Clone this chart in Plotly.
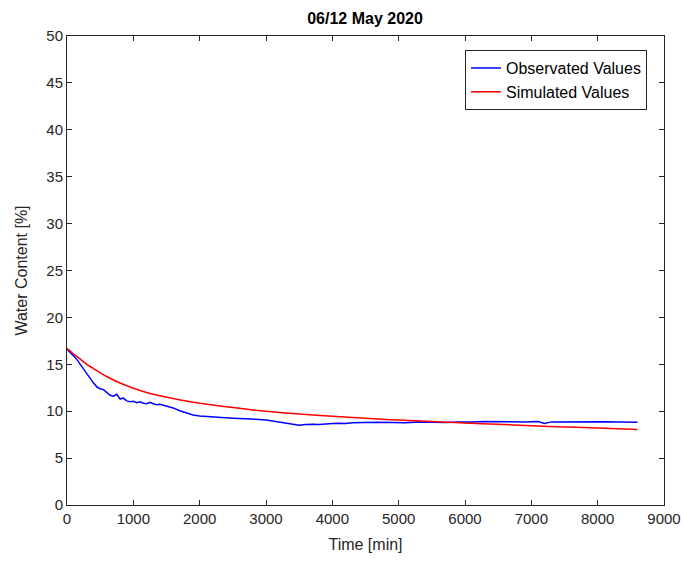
import plotly.graph_objects as go

obs_t = [0, 50, 100, 150, 200, 250, 300, 350, 400, 450, 500, 550, 600, 650, 700, 750, 800, 850, 900, 950,
         1000, 1050, 1100, 1150, 1200, 1250, 1300, 1350, 1400, 1500, 1600, 1700, 1800, 1900, 2000,
         2100, 2200, 2300, 2400, 2500, 2600, 2700, 2800, 2900, 3000, 3100, 3200, 3300, 3400, 3500,
         3600, 3700, 3800, 3900, 4000, 4100, 4200, 4300, 4400, 4500, 4700, 4900, 5100, 5300, 5500,
         5700, 5900, 6100, 6300, 6500, 6700, 6900, 7100, 7200, 7300, 7500, 7700, 7900, 8100, 8300, 8500, 8600]
obs_v = [16.6, 16.3, 15.9, 15.5, 15.0, 14.5, 14.0, 13.4, 13.0, 12.6, 12.4, 12.3, 12.0, 11.7, 11.6, 11.8, 11.3, 11.4, 11.1, 11.0,
         11.05, 10.9, 11.0, 10.85, 10.8, 10.95, 10.8, 10.7, 10.75, 10.55, 10.35, 10.05, 9.8, 9.6, 9.48,
         9.42, 9.38, 9.33, 9.3, 9.26, 9.22, 9.2, 9.2, 9.12, 9.05, 8.95, 8.85, 8.75, 8.65, 8.5,
         8.58, 8.62, 8.57, 8.65, 8.7, 8.72, 8.68, 8.78, 8.8, 8.77, 8.82, 8.8, 8.78, 8.85, 8.82,
         8.8, 8.86, 8.84, 8.9, 8.86, 8.88, 8.85, 8.9, 8.7, 8.86, 8.88, 8.85, 8.9, 8.87, 8.84, 8.85, 8.82]

sim_t = [0, 100, 200, 300, 400, 600, 800, 1000, 1200, 1400, 1600, 1800, 2000, 2500, 3000, 3500,
         4000, 4500, 5000, 5500, 6000, 6500, 7000, 7500, 8000, 8600]
sim_v = [16.7, 16.1, 15.55, 15.0, 14.55, 13.7, 13.0, 12.45, 12.0, 11.65, 11.35, 11.08, 10.85, 10.4, 10.0, 9.7,
         9.45, 9.25, 9.05, 8.9, 8.75, 8.6, 8.45, 8.32, 8.2, 8.05]

x_ticks = list(range(0, 9001, 1000))
y_ticks = list(range(0, 51, 5))

axis_col = "#262626"
fnt = "Liberation Sans, Arial"
fig = go.Figure()
fig.add_trace(go.Scatter(x=obs_t, y=obs_v, mode="lines", name="Observated Values",
                         line=dict(color="#0000ff", width=1.5)))
fig.add_trace(go.Scatter(x=sim_t, y=sim_v, mode="lines", name="Simulated Values",
                         line=dict(color="#ff0000", width=1.5, shape="spline")))

axis_common = dict(showline=True, linecolor=axis_col, linewidth=1, mirror="allticks",
                   ticks="inside", ticklen=5, tickcolor=axis_col, showgrid=False, zeroline=False,
                   automargin=False,
                   tickfont=dict(family=fnt, size=15, color=axis_col))
fig.update_xaxes(range=[0, 9000], tickvals=x_ticks,
                 title=dict(text="Time [min]", font=dict(family=fnt, size=16, color=axis_col), standoff=12),
                 **axis_common)
fig.update_yaxes(range=[0, 50], tickvals=y_ticks,
                 title=dict(text="Water Content [%]", font=dict(family=fnt, size=16, color=axis_col), standoff=14),
                 **axis_common)

fig.update_layout(
    template="none",
    width=683, height=563,
    margin=dict(l=67, r=19, t=36, b=58),
    paper_bgcolor="white", plot_bgcolor="white",
    title=dict(text="<b>06/12 May 2020</b>", x=365 / 683, xanchor="center", y=1 - 18 / 563, yanchor="middle",
               font=dict(family=fnt, size=16, color="black")),
    legend=dict(x=0.9715, y=0.97, xanchor="right", yanchor="top", bgcolor="white",
                bordercolor=axis_col, borderwidth=1,
                font=dict(family=fnt, size=16, color="black"),
                tracegroupgap=0),
    showlegend=True,
)

fig.write_html("out.html")
